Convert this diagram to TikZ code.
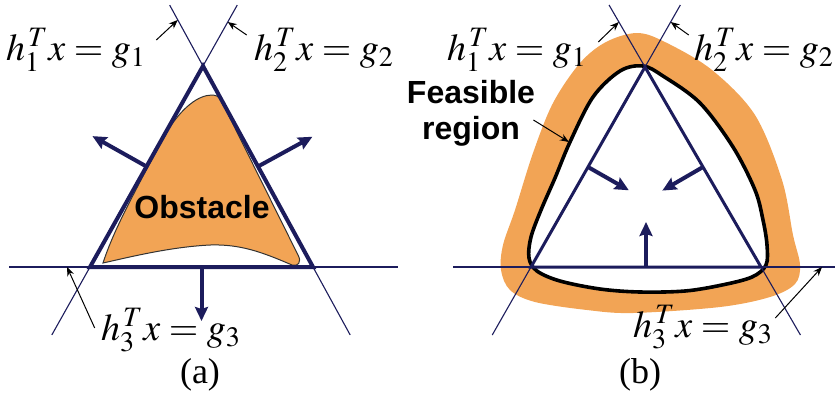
\documentclass[tikz,border=0pt]{standalone}
\usepackage{mathptmx}
\usepackage{fontspec}
\setmainfont{Liberation Serif}
\setsansfont{Liberation Sans}
\usetikzlibrary{positioning, arrows.meta, calc}
\definecolor{navy}{RGB}{28,28,92}
\definecolor{obstorange}{RGB}{242,164,85}

\begin{document}
\begin{tikzpicture}[
    x=0.5pt, y=-0.5pt,
    >=Stealth,
    % Styles
    boundary/.style={navy, line width=0.55pt},
    edge/.style={navy, line width=2pt, line join=miter},
    normal/.style={navy, line width=2pt, -{Stealth[length=7pt,width=6.5pt,inset=1pt]}},
    pointer/.style={black, line width=0.5pt, -{Stealth[length=4.5pt,width=3.5pt]}},
    eqlabel/.style={font=\fontsize{19}{22}\selectfont, inner sep=1pt},
    caption/.style={font=\fontsize{18}{22}\selectfont},
    tag/.style={font=\fontsize{16}{18}\selectfont\sffamily\bfseries, align=center, inner sep=1pt}
  ]
    \useasboundingbox (0,0) rectangle (835,398);

    % --- (a) the obstacle and its bounding triangle ---
    \coordinate (A) at (203,66);
    \coordinate (L) at (90,267);
    \coordinate (R) at (313,267);

    \draw[fill=obstorange, draw=black!80, line width=0.5pt]
        (212,95) .. controls (220,95) and (224,102) .. (226,110)
        -- (298,255) .. controls (302,262) and (298,267) .. (292,265)
        .. controls (262,252) and (240,244) .. (210,245)
        .. controls (170,247) and (130,257) .. (103,263)
        .. controls (112,235) and (128,205) .. (142,178)
        -- (168,130) .. controls (182,108) and (198,95) .. (212,95) -- cycle;
    \node[tag] (obs) at (202,207) {Obstacle};

    \draw[boundary] ($(A)!-0.303!(R)$) -- ($(A)!1.338!(R)$);
    \draw[boundary] ($(A)!-0.303!(L)$) -- ($(A)!1.338!(L)$);
    \draw[boundary] (9,267) -- (398,267);
    \draw[edge] (A) -- (L) -- (R) -- cycle;

    \coordinate (mL) at ($(A)!0.5!(L)$);
    \coordinate (mR) at ($(A)!0.5!(R)$);
    \coordinate (mB) at ($(L)!0.5!(R)$);
    \draw[normal] (mL) -- ($(mL)!31pt!90:(A)$);
    \draw[normal] (mR) -- ($(mR)!31pt!-90:(A)$);
    \draw[normal] (mB) -- ($(mB)!27pt!-90:(R)$);

    % --- (a) labels ---
    \coordinate (t1a) at ($(A)!-0.229!(R)$);
    \coordinate (t2a) at ($(A)!-0.219!(L)$);
    \coordinate (t3a) at ($(L)+(-23,0)$);
    \node[eqlabel] (eq1a) at (76,50) {$h_1^{\,T} x = g_1$};
    \node[eqlabel] (eq2a) at (324,50) {$h_2^{\,T} x = g_2$};
    \node[eqlabel] (eq3a) at (171,330) {$h_3^{\,T} x = g_3$};
    \draw[pointer] (eq1a.east) ++(8,-10) -- (t1a);
    \draw[pointer] (eq2a.west) ++(-5,-15) -- (t2a);
    \draw[pointer] (eq3a.west) ++(-4,-2) -- (t3a);
    \node[caption] (capa) at (200,375) {(a)};

    % --- (b) the feasible region ---
    \coordinate (B) at (645,67);
    \coordinate (BL) at (531,267);
    \coordinate (BR) at (761,267);

    \fill[obstorange] plot[smooth cycle, tension=0.55] coordinates {
        (637,33) (606,42) (580,63) (553,103) (533,153) (515,210) (503,245)
        (501,270) (510,290) (535,302) (587,310) (633,313) (720,307) (770,297)
        (795,284) (800,265) (793,235) (782,180) (755,115) (712,70) (665,42)};
    \draw[black, line width=1.8pt, fill=white] plot[smooth cycle, tension=0.55] coordinates {
        (643,66) (620,71) (593,97) (570,142) (555,178) (541,210) (531,237)
        (529,258) (537,271) (560,281) (600,289) (640,292) (685,291) (722,285)
        (752,277) (766,265) (767,245) (763,220) (755,190) (733,147)
        (700,103) (663,76)};

    \draw[boundary] ($(B)!-0.31!(BR)$) -- ($(B)!1.34!(BR)$);
    \draw[boundary] ($(B)!-0.31!(BL)$) -- ($(B)!1.34!(BL)$);
    \draw[boundary] (453,267) -- (835,267);
    \draw[edge, line width=1.5pt] (B) -- (BL) -- (BR) -- cycle;

    \coordinate (nL) at ($(B)!0.5!(BL)$);
    \coordinate (nR) at ($(B)!0.5!(BR)$);
    \coordinate (nB) at ($(BL)!0.5!(BR)$);
    \draw[normal] (nL) -- ($(nL)!23.5pt!-90:(B)$);
    \draw[normal] (nR) -- ($(nR)!23.5pt!90:(B)$);
    \draw[normal] (nB) -- ($(nB)!22.5pt!90:(BR)$);

    % --- (b) labels ---
    \coordinate (t1b) at ($(B)!-0.225!(BR)$);
    \coordinate (t2b) at ($(B)!-0.225!(BL)$);
    \coordinate (t3b) at ($(BR)+(61,0)$);
    \coordinate (fr) at (569,142);
    \node[eqlabel] (eq1b) at (517,50) {$h_1^{\,T} x = g_1$};
    \node[eqlabel] (eq2b) at (764,50) {$h_2^{\,T} x = g_2$};
    \node[eqlabel] (eq3b) at (703,327) {$h_3^{\,T} x = g_3$};
    \node[tag] (feas) at (471,113) {Feasible\\region};
    \draw[pointer] (eq1b.east) ++(9,-8) -- (t1b);
    \draw[pointer] (eq2b.west) ++(-3,-15) -- (t2b);
    \draw[pointer] (eq3b.east) ++(0,-9) -- (t3b);
    \draw[pointer] (feas.east) ++(-4,7) -- (fr);
    \node[caption] (capb) at (640,375) {(b)};

\end{tikzpicture}
\end{document}
